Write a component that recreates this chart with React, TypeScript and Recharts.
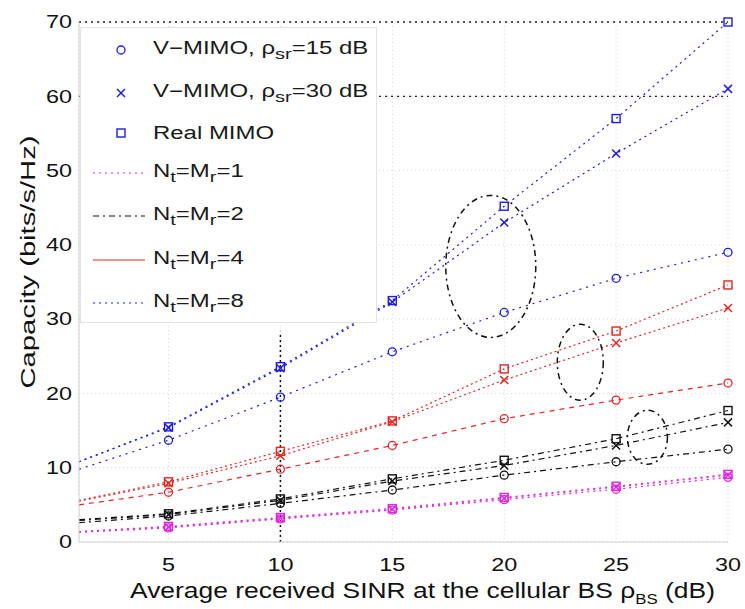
import React from 'react'
import { CartesianGrid, Label, Legend, Line, LineChart, ReferenceDot, ReferenceLine, XAxis, YAxis } from 'recharts'

const snr = [1, 5, 10, 15, 20, 25, 30]
const xTicks = [5, 10, 15, 20, 25, 30]
const yTicks = [0, 10, 20, 30, 40, 50, 60, 70]

// N = M = 8
const real8 = [10.8, 15.5, 23.6, 32.5, 45.2, 57, 70]
const vmimo30_8 = [10.8, 15.4, 23.4, 32.3, 43, 52.3, 61]
const vmimo15_8 = [9.8, 13.7, 19.5, 25.6, 30.9, 35.5, 39]
// N = M = 4
const real4 = [5.6, 8.1, 12.2, 16.3, 23.3, 28.4, 34.6]
const vmimo30_4 = [5.5, 7.9, 11.6, 16.2, 21.8, 26.8, 31.5]
const vmimo15_4 = [5, 6.7, 9.8, 13, 16.6, 19.1, 21.4]
// N = M = 2
const real2 = [3, 3.8, 5.8, 8.5, 11, 13.9, 17.7]
const vmimo30_2 = [2.9, 3.7, 5.6, 8.2, 10.3, 13, 16.1]
const vmimo15_2 = [2.6, 3.5, 5.2, 7, 9, 10.8, 12.5]
// N = M = 1
const real1 = [1.4, 2.1, 3.3, 4.5, 6, 7.5, 9.1]
const vmimo30_1 = [1.4, 2, 3.2, 4.4, 5.9, 7.4, 9]
const vmimo15_1 = [1.3, 1.9, 3.1, 4.3, 5.7, 7.1, 8.7]

const rows = snr.map((s, i) => ({
  snr: s,
  real8: real8[i], v30_8: vmimo30_8[i], v15_8: vmimo15_8[i],
  real4: real4[i], v30_4: vmimo30_4[i], v15_4: vmimo15_4[i],
  real2: real2[i], v30_2: vmimo30_2[i], v15_2: vmimo15_2[i],
  real1: real1[i], v30_1: vmimo30_1[i], v15_1: vmimo15_1[i],
}))

const BLUE = '#1c1ce0'
const RED = '#e42424'
const BLACK = '#111'
const MAGENTA = '#e028e0'

type Kind = 'circle' | 'cross' | 'square'

const series: { key: string; color: string; dash: string; kind: Kind }[] = [
  { key: 'real8', color: BLUE, dash: '2 4', kind: 'square' },
  { key: 'v30_8', color: BLUE, dash: '2 4', kind: 'cross' },
  { key: 'v15_8', color: BLUE, dash: '2 5', kind: 'circle' },
  { key: 'real4', color: RED, dash: '2 3', kind: 'square' },
  { key: 'v30_4', color: RED, dash: '2 3', kind: 'cross' },
  { key: 'v15_4', color: RED, dash: '5 5', kind: 'circle' },
  { key: 'real2', color: BLACK, dash: '6 4 2 4', kind: 'square' },
  { key: 'v30_2', color: BLACK, dash: '6 4 2 4', kind: 'cross' },
  { key: 'v15_2', color: BLACK, dash: '6 4 2 4', kind: 'circle' },
  { key: 'real1', color: MAGENTA, dash: '2 4', kind: 'square' },
  { key: 'v30_1', color: MAGENTA, dash: '2 4', kind: 'cross' },
  { key: 'v15_1', color: MAGENTA, dash: '2 4', kind: 'circle' },
]

// annotation ellipses (centre in data units, radii in px)
const ellipses = [
  { x: 19.4, y: 37.1, rx: 45, ry: 71 },
  { x: 23.4, y: 24.2, rx: 23, ry: 38 },
  { x: 26.4, y: 14.1, rx: 20, ry: 27 },
]

const FONT = '"Liberation Sans", Arial, Helvetica, sans-serif'
const STRETCH = 1.3

function MarkerShape({ cx, cy, kind, color }: { cx: number; cy: number; kind: Kind; color: string }) {
  if (kind === 'circle') return <circle cx={cx} cy={cy} r={4} fill="none" stroke={color} strokeWidth={1.3} />
  if (kind === 'cross')
    return (
      <g stroke={color} strokeWidth={1.5}>
        <line x1={cx - 4} y1={cy - 4} x2={cx + 4} y2={cy + 4} />
        <line x1={cx - 4} y1={cy + 4} x2={cx + 4} y2={cy - 4} />
      </g>
    )
  return <rect x={cx - 4} y={cy - 4} width={8} height={8} fill="none" stroke={color} strokeWidth={1.4} />
}

function makeDot(kind: Kind, color: string) {
  return (p: any) => {
    if (p.payload?.snr === 1 || p.cx == null) return <g key={p.key} />
    return (
      <g key={p.key}>
        <MarkerShape cx={p.cx} cy={p.cy} kind={kind} color={color} />
      </g>
    )
  }
}

function XTick({ x, y, payload }: any) {
  return (
    <g transform={`translate(${x},${y})`}>
      <text transform={`scale(${STRETCH},1)`} textAnchor="middle" dy="0.71em" fontSize={18} fill="#111" fontFamily={FONT}>
        {payload.value}
      </text>
    </g>
  )
}

function YTick({ x, y, payload }: any) {
  return (
    <g transform={`translate(${x},${y})`}>
      <text transform={`scale(${STRETCH},1)`} textAnchor="end" dy="0.35em" fontSize={18} fill="#111" fontFamily={FONT}>
        {payload.value}
      </text>
    </g>
  )
}

const legendRows: { label: React.ReactNode; kind?: Kind; color: string; dash?: string; h: number }[] = [
  { label: <>V−MIMO, ρ<sub>sr</sub>=15 dB</>, kind: 'circle', color: BLUE, h: 43 },
  { label: <>V−MIMO, ρ<sub>sr</sub>=30 dB</>, kind: 'cross', color: BLUE, h: 43 },
  { label: <>Real MIMO</>, kind: 'square', color: BLUE, h: 37 },
  { label: <>N<sub>t</sub>=M<sub>r</sub>=1</>, color: MAGENTA, dash: '2 4', h: 43 },
  { label: <>N<sub>t</sub>=M<sub>r</sub>=2</>, color: BLACK, dash: '6 4 2 4', h: 44 },
  { label: <>N<sub>t</sub>=M<sub>r</sub>=4</>, color: RED, dash: '0', h: 43 },
  { label: <>N<sub>t</sub>=M<sub>r</sub>=8</>, color: BLUE, dash: '2 4', h: 43 },
]

function LegendBox() {
  return (
    <div style={{ width: 297, height: 296, background: '#fff', border: '1px solid #e4e4e4', boxSizing: 'border-box', fontFamily: FONT }}>
      {legendRows.map((r, i) => (
        <div key={i} style={{ display: 'flex', alignItems: 'center', height: r.h, fontSize: 18, color: '#1a1a1a', lineHeight: 1 }}>
          <svg width={72} height={20} style={{ flex: 'none' }}>
            {r.kind ? (
              <MarkerShape cx={40} cy={10} kind={r.kind} color={r.color} />
            ) : (
              <line x1={12} y1={10} x2={64} y2={10} stroke={r.color} strokeWidth={1.2} strokeDasharray={r.dash} />
            )}
          </svg>
          <span style={{ whiteSpace: 'nowrap', display: 'inline-block', transform: 'scaleX(1.33)', transformOrigin: 'left center' }}>{r.label}</span>
        </div>
      ))}
    </div>
  )
}

function XTitle() {
  return (
    <text x={130} y={598} fontSize={22} fill="#111" fontFamily={FONT} textLength={585} lengthAdjust="spacingAndGlyphs">
      Average received SINR at the cellular BS ρ
      <tspan dy={6} fontSize={14}>BS</tspan>
      <tspan dy={-6}> (dB)</tspan>
    </text>
  )
}

function YTitle() {
  return (
    <text
      x={0}
      y={0}
      fontSize={20}
      fill="#111"
      fontFamily={FONT}
      textAnchor="middle"
      dy="0.35em"
      textLength={253}
      lengthAdjust="spacingAndGlyphs"
      transform="translate(28, 262) rotate(-90)"
    >
      Capacity (bits/s/Hz)
    </text>
  )
}

export default function App() {
  return (
    <div style={{ position: 'absolute', left: 0, top: 0, width: 745, height: 609, background: '#fff', fontFamily: FONT }}>
      <LineChart width={745} height={609} data={rows} margin={{ top: 22, right: 17, left: 19, bottom: 0 }}>
        <CartesianGrid stroke="#d6d6d6" strokeDasharray="1 3" />
        <XAxis
          dataKey="snr"
          type="number"
          domain={[1, 30]}
          ticks={xTicks}
          height={67}
          tickSize={8}
          tickMargin={8}
          tickLine={false}
          axisLine={{ stroke: '#d0d0d0' }}
          tick={<XTick />}
        >
          <Label content={XTitle} />
        </XAxis>
        <YAxis
          type="number"
          domain={[0, 70]}
          ticks={yTicks}
          width={60}
          tickSize={5}
          tickMargin={2}
          tickLine={false}
          axisLine={{ stroke: '#d0d0d0' }}
          tick={<YTick />}
        >
          <Label content={YTitle} />
        </YAxis>
        <ReferenceLine y={70} stroke="#222" strokeDasharray="2 4" strokeWidth={1.3} />
        <ReferenceLine y={60} stroke="#222" strokeDasharray="2 4" strokeWidth={1.3} />
        <ReferenceLine segment={[{ x: 10, y: 0 }, { x: 10, y: 28.3 }]} stroke="#111" strokeDasharray="2 3" strokeWidth={1.5} />
        {ellipses.map((e, i) => (
          <ReferenceDot
            key={i}
            x={e.x}
            y={e.y}
            r={1}
            ifOverflow="visible"
            shape={(p: any) => (
              <ellipse cx={p.cx} cy={p.cy} rx={e.rx} ry={e.ry} fill="none" stroke="#111" strokeWidth={1.5} strokeDasharray="6 4 2 4" />
            )}
          />
        ))}
        {series.map(s => (
          <Line
            key={s.key}
            dataKey={s.key}
            type="linear"
            stroke={s.color}
            strokeWidth={1.2}
            strokeDasharray={s.dash}
            dot={makeDot(s.kind, s.color)}
            activeDot={false}
            isAnimationActive={false}
          />
        ))}
        <Legend
          layout="vertical"
          align="center"
          verticalAlign="middle"
          content={() => <LegendBox />}
          wrapperStyle={{ position: 'absolute', left: 80, top: 27, width: 297, height: 296 }}
        />
      </LineChart>
    </div>
  )
}
